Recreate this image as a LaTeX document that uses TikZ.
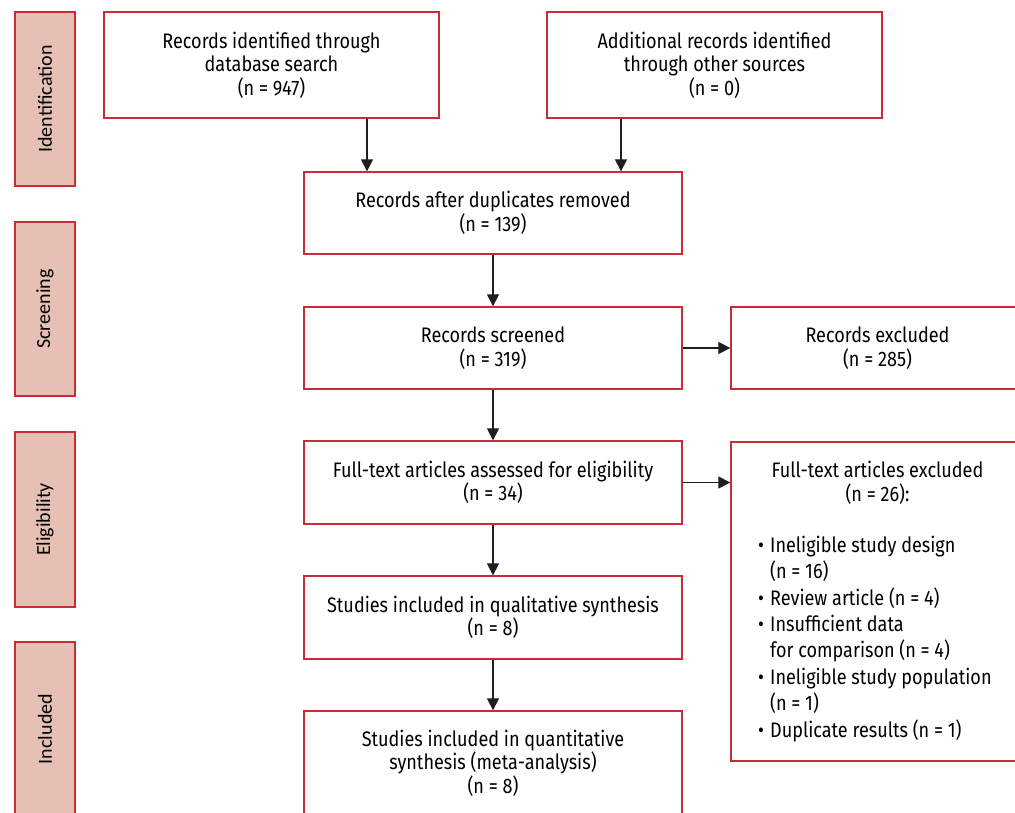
\documentclass[tikz,border=0pt]{standalone}
\usepackage{fontspec}
\setmainfont{Fira Sans}[FakeStretch=0.86]
\newfontfamily\sidefont{Carlito}
\usetikzlibrary{arrows.meta}
\definecolor{boxred}{RGB}{200,45,55}
\definecolor{sidefill}{RGB}{230,192,181}
\definecolor{arrgray}{RGB}{30,30,30}
\begin{document}
\begin{tikzpicture}[x=1pt,y=-1pt,
  box/.style={draw=boxred,line width=1.3pt,fill=white,inner sep=0pt,align=center,
    font=\fontsize{21}{23.5}\selectfont},
  side/.style={draw=boxred,line width=1.3pt,fill=sidefill,minimum width=60pt,inner sep=0pt},
  sidelabel/.style={rotate=90,font=\sidefont\fontsize{20}{24}\selectfont},
  arr/.style={-{Triangle[length=12pt,width=12pt]},line width=1.2pt,draw=arrgray,fill=arrgray},
  listtext/.style={inner sep=0pt,align=left,font=\fontsize{21}{26.4}\selectfont}]
\useasboundingbox (0,0) rectangle (1015,812);
\clip (0,0) rectangle (1015,812);
% side labels
\node[side,minimum height=174pt] (sid) at (45,99) {};
\node[sidelabel] (sidt) at (sid.center) {Identification};
\node[side,minimum height=174pt] (ssc) at (45,309) {};
\node[sidelabel] (ssct) at (ssc.center) {Screening};
\node[side,minimum height=175pt] (sel) at (45,519.5) {};
\node[sidelabel] (selt) at (sel.center) {Eligibility};
\node[side,minimum height=174pt] (sin) at (45,729) {};
\node[sidelabel] (sint) at (sin.center) {Included};
% main boxes
\node[box,minimum width=335pt,minimum height=106pt] (b1) at (271.5,65)
  {Records identified through\\database search\\(n = 947)};
\node[box,minimum width=335pt,minimum height=106pt] (b2) at (714.5,65)
  {Additional records identified\\through other sources\\(n = 0)};
\node[box,minimum width=378pt,minimum height=82pt] (b3) at (493,213)
  {Records after duplicates removed\\(n = 139)};
\node[box,minimum width=378pt,minimum height=82pt] (b4) at (493,348)
  {Records screened\\(n = 319)};
\node[box,minimum width=293pt,minimum height=82pt] (ex1) at (877.5,348)
  {Records excluded\\(n = 285)};
\node[box,minimum width=378pt,minimum height=83pt] (b5) at (493,482.5)
  {Full-text articles assessed for eligibility\\(n = 34)};
\node[box,minimum width=293pt,minimum height=319pt] (ex2) at (877.5,601.5) {};
\node[box,draw=none,fill=none,anchor=base] (ex2h) at (877.5,501)
  {Full-text articles excluded\\(n = 26):};
\node[listtext,anchor=base west] (ex2l) at (758,737)
  {\makebox[12pt][l]{•}Ineligible study design\\
   \hspace*{12pt}(n = 16)\\
   \makebox[12pt][l]{•}Review article (n = 4)\\
   \makebox[12pt][l]{•}Insufficient data\\
   \hspace*{12pt}for comparison (n = 4)\\
   \makebox[12pt][l]{•}Ineligible study population\\
   \hspace*{12pt}(n = 1)\\
   \makebox[12pt][l]{•}Duplicate results (n = 1)};
\node[box,minimum width=378pt,minimum height=83pt] (b6) at (493,617.5)
  {Studies included in qualitative synthesis\\(n = 8)};
\node[box,minimum width=378pt,minimum height=104pt] (b7) at (493,763)
  {Studies included in quantitative\\synthesis (meta-analysis)\\(n = 8)};
% arrows
\coordinate (xa) at (367,0);
\coordinate (xb) at (621,0);
\draw[arr] (b1.south -| xa) -- (b3.north -| xa);
\draw[arr] (b2.south -| xb) -- (b3.north -| xb);
\draw[arr] (b3) -- (b4);
\draw[arr] (b4) -- (ex1);
\draw[arr] (b4) -- (b5);
\draw[arr] (b5.east) -- (ex2.west |- b5.east);
\draw[arr] (b5) -- (b6);
\draw[arr] (b6) -- (b7);
\end{tikzpicture}
\end{document}
